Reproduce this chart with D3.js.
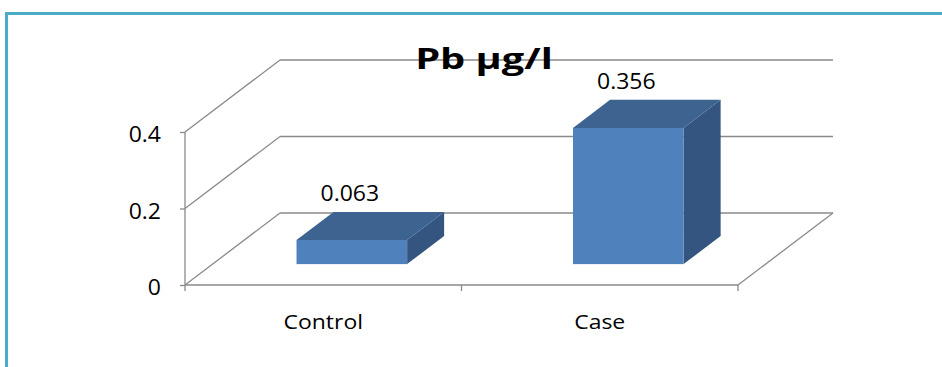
<!DOCTYPE html>
<html>
<head>
<meta charset="utf-8">
<script src="https://cdn.jsdelivr.net/npm/d3@7"></script>
<style>
  html, body { margin: 0; padding: 0; background: #fff; }
  svg { display: block; }
  text { font-family: "Open Sans", "Liberation Sans", sans-serif; fill: #000; }
</style>
</head>
<body>
<svg id="chart" width="942" height="367"></svg>
<script>
// Lead concentration by group
const categories = ["Control", "Case"];
const values = [0.063, 0.356];
const yTicks = [0, 0.2, 0.4];
const title = "Pb µg/l";

const svg = d3.select("#chart");
const W = 942, H = 367;

// outer frame (only the top and left edges fall inside the page)
svg.append("rect")
  .attr("x", 6.5).attr("y", 13.5)
  .attr("width", W + 20).attr("height", H + 20)
  .attr("fill", "none")
  .attr("stroke", "#4BACC6")
  .attr("stroke-width", 3);

// front plane of the 3D plot and the depth offset of the back wall
const x = d3.scaleBand().domain(categories).range([186, 739]);
const y = d3.scaleLinear().domain([0, 0.4]).range([285, 132]);
const DX = 95, DY = -72;             // full depth of the floor
const dFront = 0.29, dBack = 0.68;    // bar slab position in depth
const barFrac = 0.4;                  // bar width relative to band
const stretch = 1.07;                 // horizontal widening of text
const fontSize = "21.5px";

const gridColor = "#8a8a8a";
const x0 = x.range()[0] - 1, x1 = x.range()[1] - 1;

const grid = svg.append("g")
  .attr("stroke", gridColor)
  .attr("stroke-width", 1.3)
  .attr("fill", "none");

// back wall gridlines and side wall diagonals
yTicks.forEach(t => {
  grid.append("line")
    .attr("x1", x0 + DX).attr("y1", y(t) + DY)
    .attr("x2", x1 + DX).attr("y2", y(t) + DY);
  grid.append("line")
    .attr("x1", x0).attr("y1", y(t))
    .attr("x2", x0 + DX).attr("y2", y(t) + DY);
});

// floor front and right edges
grid.append("line")
  .attr("x1", x0).attr("y1", y(0))
  .attr("x2", x1).attr("y2", y(0));
grid.append("line")
  .attr("x1", x1).attr("y1", y(0))
  .attr("x2", x1 + DX).attr("y2", y(0) + DY);

// category tick marks on the band boundaries
const bounds = [x0].concat(categories.map(c => x(c) + x.bandwidth() - 1));
bounds.forEach(b => {
  grid.append("line")
    .attr("x1", b).attr("y1", y(0))
    .attr("x2", b).attr("y2", y(0) + 6);
});

// value axis
const yAxis = svg.append("g")
  .attr("transform", `translate(${x0},0)`)
  .call(d3.axisLeft(y).tickValues(yTicks).tickSize(5).tickPadding(19)
    .tickFormat(d3.format("")));
yAxis.attr("font-family", null).attr("font-size", null);
yAxis.select(".domain")
  .attr("stroke", gridColor).attr("stroke-width", 1.3)
  .attr("d", `M0,${y(0.4)}V${y(0)}`);
yAxis.selectAll(".tick line").attr("stroke", gridColor).attr("stroke-width", 1.3);
yAxis.selectAll(".tick text")
  .style("font-size", fontSize)
  .attr("dy", null)
  .attr("x", null)
  .attr("text-anchor", "end")
  .attr("transform", `translate(-24,9.5) scale(${stretch},1)`);

// 3D bars
const faces = { front: "#4F81BD", top: "#3D6391", side: "#34557F" };
const bars = svg.append("g");
categories.forEach((c, i) => {
  const v = values[i];
  const cx = x(c) + x.bandwidth() / 2;
  const w = x.bandwidth() * barFrac;
  const fx = cx - w / 2 + dFront * DX, fy = dFront * DY;
  const bx = cx - w / 2 + dBack * DX, by = dBack * DY;
  const yt = y(v), yb = y(0);
  const pts = a => a.map(p => p.join(",")).join(" ");

  bars.append("polygon").attr("fill", faces.side)
    .attr("points", pts([[fx + w, yt + fy], [bx + w, yt + by], [bx + w, yb + by], [fx + w, yb + fy]]));
  bars.append("polygon").attr("fill", faces.top)
    .attr("points", pts([[fx, yt + fy], [fx + w, yt + fy], [bx + w, yt + by], [bx, yt + by]]));
  bars.append("rect").attr("fill", faces.front)
    .attr("x", fx).attr("y", yt + fy)
    .attr("width", w).attr("height", yb - yt);

  // value label above the bar
  svg.append("text")
    .attr("text-anchor", "middle")
    .style("font-size", fontSize)
    .attr("transform", `translate(${fx + w / 2 - 2},${yt + by - 10.5}) scale(${stretch},1)`)
    .text(d3.format(".3f")(v));

  // category label
  svg.append("text")
    .attr("text-anchor", "middle")
    .style("font-size", "20.5px")
    .attr("transform", `translate(${cx - 1},328.5) scale(1.12,1)`)
    .text(c);
});

// chart title
svg.append("text")
  .attr("text-anchor", "middle")
  .style("font-size", "28px")
  .style("font-weight", "bold")
  .attr("transform", `translate(484,68.5) scale(1.42,1)`)
  .text(title);
</script>
</body>
</html>
